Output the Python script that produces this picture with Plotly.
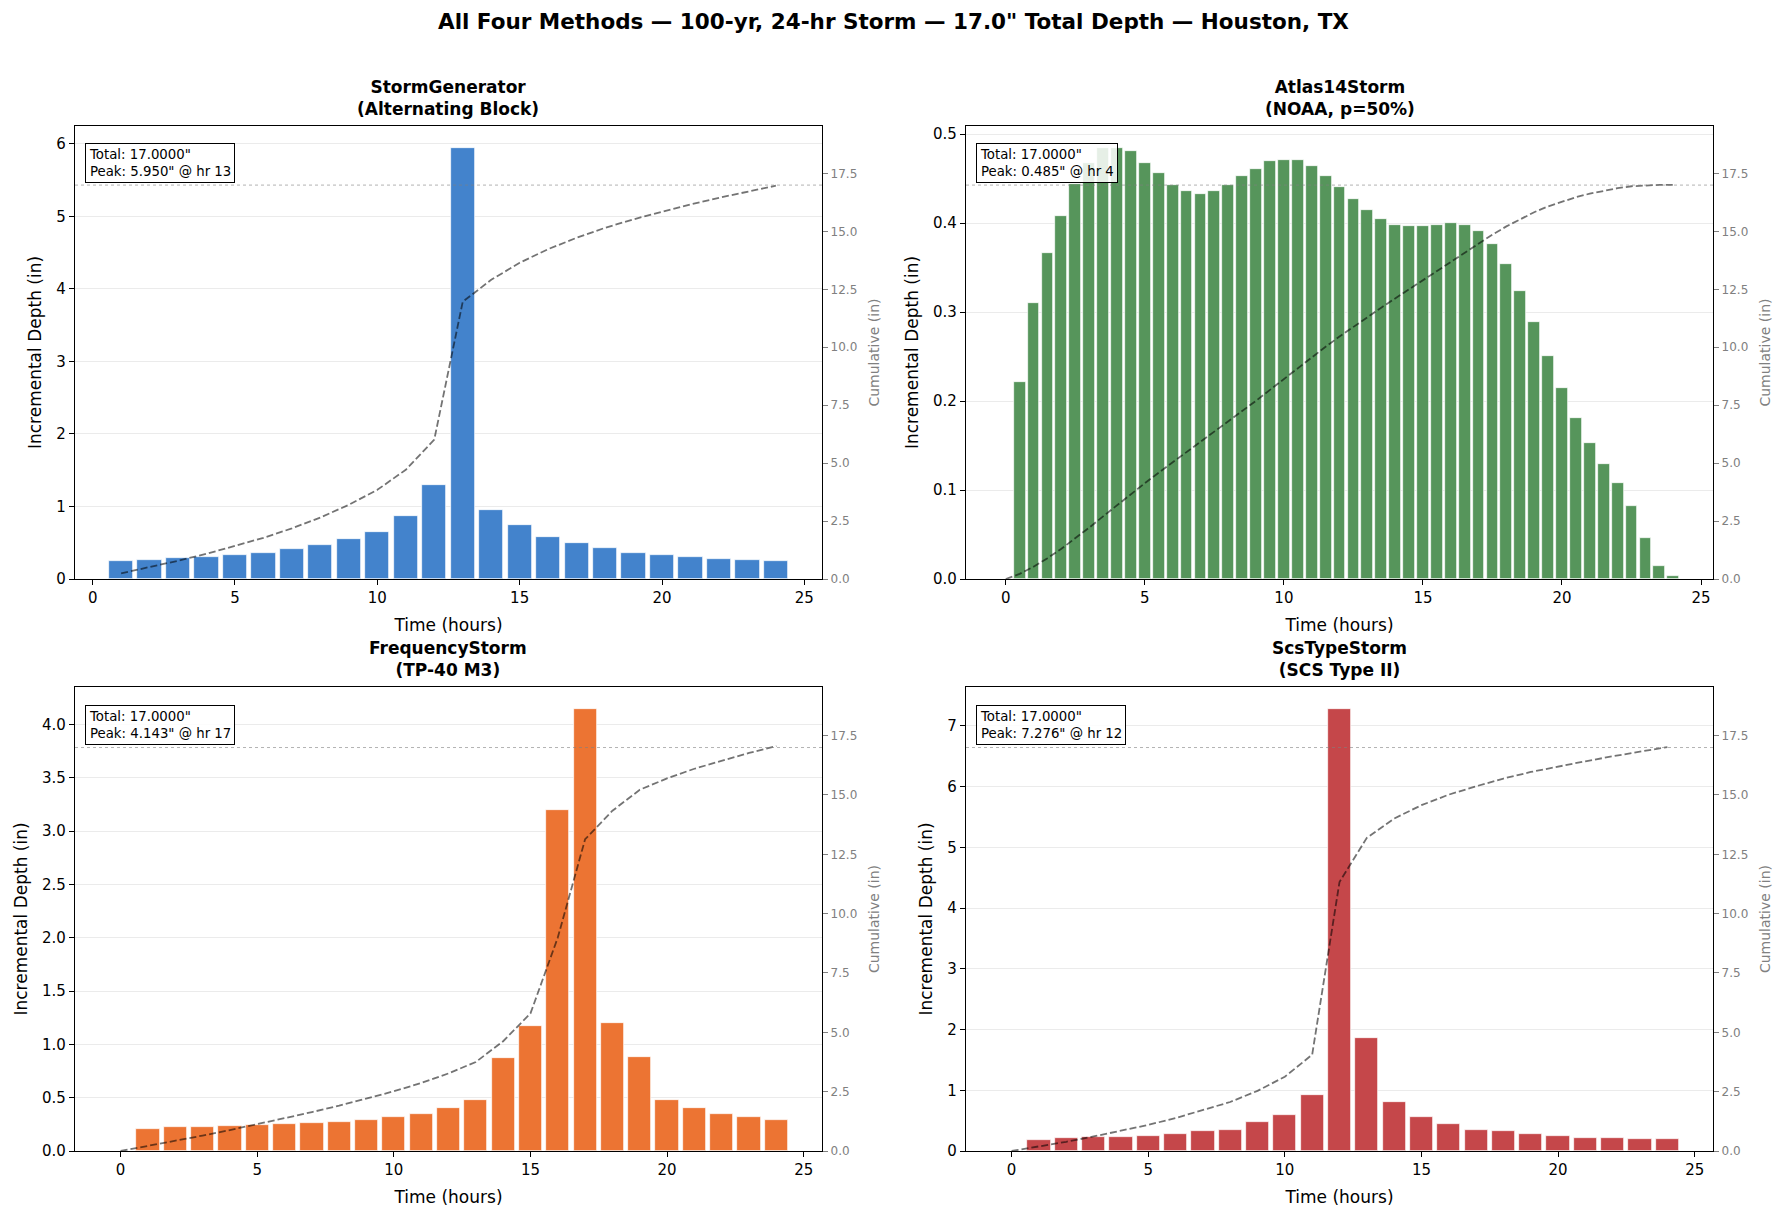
import numpy as np
import plotly.graph_objects as go

FONT = "DejaVu Sans"

# ---------------- data ----------------
sg_hours = list(range(1, 25))
sg_incr = [0.245, 0.258, 0.285, 0.300, 0.332, 0.355, 0.410, 0.470, 0.548, 0.645, 0.866, 1.302,
           5.950, 0.945, 0.738, 0.586, 0.490, 0.433, 0.365, 0.336, 0.310, 0.282, 0.268, 0.255]

a14_hours = [0.5 * k for k in range(1, 49)]
a14_incr = [0.222, 0.310, 0.3665, 0.408, 0.4435, 0.4675, 0.484, 0.485, 0.4806, 0.4675, 0.4559, 0.4428,
            0.436, 0.4323, 0.436, 0.4424, 0.4525, 0.4607, 0.470, 0.4708, 0.4708, 0.464, 0.4536, 0.4405,
            0.427, 0.4147, 0.4046, 0.398, 0.3964, 0.3964, 0.398, 0.4005, 0.3975, 0.3908, 0.3762, 0.354,
            0.3235, 0.289, 0.251, 0.2147, 0.181, 0.153, 0.1294, 0.108, 0.0823, 0.0464, 0.0142, 0.0037]

fq_hours = list(range(1, 25))
fq_incr = [0.207, 0.221, 0.221, 0.231, 0.244, 0.254, 0.261, 0.271, 0.288, 0.318, 0.348, 0.405,
           0.482, 0.873, 1.174, 3.194, 4.143, 1.201, 0.883, 0.482, 0.405, 0.348, 0.318, 0.288]

scs_hours = list(range(1, 25))
scs_incr = [0.182, 0.206, 0.224, 0.235, 0.253, 0.288, 0.324, 0.353, 0.470, 0.594, 0.929, 7.276,
            1.859, 0.815, 0.562, 0.445, 0.352, 0.327, 0.275, 0.240, 0.212, 0.210, 0.195, 0.192]

total_depth = 17.0

panels = [
    dict(title="StormGenerator", sub="(Alternating Block)", hours=sg_hours, incr=sg_incr,
         color="#4383cc", width=0.85, start_zero=False, peak_hr=13, xr=[-0.62, 25.62],
         lt=[0, 1, 2, 3, 4, 5, 6], lfmt="d"),
    dict(title="Atlas14Storm", sub="(NOAA, p=50%)", hours=a14_hours, incr=a14_incr,
         color="#56955b", width=0.425, start_zero=True, peak_hr=4, xr=[-1.43, 25.43],
         lt=[0, 0.1, 0.2, 0.3, 0.4, 0.5], lfmt=".1f"),
    dict(title="FrequencyStorm", sub="(TP-40 M3)", hours=fq_hours, incr=fq_incr,
         color="#ec7433", width=0.85, start_zero=True, peak_hr=17, xr=[-1.67, 25.67],
         lt=[0, 0.5, 1.0, 1.5, 2.0, 2.5, 3.0, 3.5, 4.0], lfmt=".1f"),
    dict(title="ScsTypeStorm", sub="(SCS Type II)", hours=scs_hours, incr=scs_incr,
         color="#c5474a", width=0.85, start_zero=True, peak_hr=12, xr=[-1.67, 25.67],
         lt=[0, 1, 2, 3, 4, 5, 6, 7], lfmt="d"),
]

W, H = 1787, 1217
xdoms = [[75 / W, 822 / W], [966 / W, 1713 / W]]
ydoms = [[1 - 579 / H, 1 - 126 / H], [1 - 1151 / H, 1 - 687 / H]]

fig = go.Figure()
layout = dict(
    width=W, height=H, margin=dict(l=0, r=0, t=0, b=0),
    paper_bgcolor="white", plot_bgcolor="white", showlegend=False,
    font=dict(family=FONT, color="black"),
    bargap=0,
)
annotations = []
shapes = []

for i, p in enumerate(panels):
    r, c = divmod(i, 2)
    xd, yd = xdoms[c], ydoms[r]
    xn = "" if i == 0 else str(i + 1)
    yln = "" if i == 0 else str(2 * i + 1)
    yrn = str(2 * i + 2)
    xa, yl, yr = "x" + xn, "y" + yln, "y" + yrn

    incr = np.array(p["incr"], dtype=float)
    hrs = np.array(p["hours"], dtype=float)
    cum = np.cumsum(incr)
    if p["start_zero"]:
        lx = np.concatenate([[0.0], hrs])
        ly = np.concatenate([[0.0], cum])
    else:
        lx, ly = hrs, cum
    peak = float(incr.max())

    fig.add_trace(go.Bar(x=hrs, y=incr, width=p["width"], xaxis=xa, yaxis=yl,
                         marker=dict(color=p["color"], line=dict(color="white", width=0.7)),
                         hoverinfo="x+y"))
    fig.add_trace(go.Scatter(x=lx, y=ly, mode="lines", xaxis=xa, yaxis=yr,
                             line=dict(color="rgba(0,0,0,0.55)", width=1.8, dash="7px,3px")))

    layout["xaxis" + xn] = dict(
        domain=xd, anchor=yl, range=p["xr"], tickvals=[0, 5, 10, 15, 20, 25],
        ticks="outside", ticklen=5, tickcolor="black", tickwidth=1,
        showline=True, linecolor="black", linewidth=1.3, mirror=True,
        showgrid=False, zeroline=False,
        tickfont=dict(size=15, family=FONT, color="black"),
        title=dict(text="Time (hours)", font=dict(size=17, family=FONT, color="black"), standoff=12),
        automargin=False,
    )
    layout["yaxis" + yln] = dict(
        domain=yd, anchor=xa, range=[0, peak * 1.05], tickvals=p["lt"], tickformat=p["lfmt"],
        ticks="outside", ticklen=5, tickcolor="black", tickwidth=1,
        showline=True, linecolor="black", linewidth=1.3,
        showgrid=True, gridcolor="rgba(0,0,0,0.08)", gridwidth=1, zeroline=False,
        tickfont=dict(size=15, family=FONT, color="black"),
        title=dict(text="Incremental Depth (in)", font=dict(size=17, family=FONT, color="black"), standoff=10),
        automargin=False,
    )
    layout["yaxis" + yrn] = dict(
        overlaying=yl, side="right", anchor=xa, range=[0, total_depth * 1.15],
        tickvals=[0, 2.5, 5, 7.5, 10, 12.5, 15, 17.5], tickformat=".1f",
        ticks="outside", ticklen=5, tickcolor="gray", tickwidth=1,
        showline=True, linecolor="black", linewidth=1.3,
        showgrid=False, zeroline=False,
        tickfont=dict(size=12, family=FONT, color="gray"),
        title=dict(text="Cumulative (in)", font=dict(size=14, family=FONT, color="gray"), standoff=12),
        automargin=False,
    )

    shapes.append(dict(type="line", xref=xa + " domain", yref=yr, x0=0, x1=1,
                       y0=total_depth, y1=total_depth, layer="above",
                       line=dict(color="rgba(128,128,128,0.6)", width=1, dash="dot")))

    annotations.append(dict(
        xref="paper", yref="paper", x=(xd[0] + xd[1]) / 2, y=yd[1] + 5 / H,
        xanchor="center", yanchor="bottom", showarrow=False,
        text="<b>%s<br>%s</b>" % (p["title"], p["sub"]),
        font=dict(size=17, family=FONT, color="black"),
    ))
    annotations.append(dict(
        xref=xa + " domain", yref=yl + " domain", x=0.014, y=0.962,
        xanchor="left", yanchor="top", align="left", showarrow=False,
        text='Total: %.4f"<br>Peak: %.3f" @ hr %d' % (total_depth, peak, p["peak_hr"]),
        font=dict(size=13.3, family=FONT, color="black"),
        bgcolor="rgba(255,255,255,0.85)", bordercolor="black", borderwidth=1, borderpad=3,
    ))

annotations.append(dict(
    xref="paper", yref="paper", x=0.5, y=1 - 22 / H, xanchor="center", yanchor="middle",
    showarrow=False,
    text='<b>All Four Methods \u2014 100-yr, 24-hr Storm \u2014 17.0" Total Depth \u2014 Houston, TX</b>',
    font=dict(size=21.5, family=FONT, color="black"),
))

layout["annotations"] = annotations
layout["shapes"] = shapes
fig.update_layout(**layout)
fig.write_html("out.html")
